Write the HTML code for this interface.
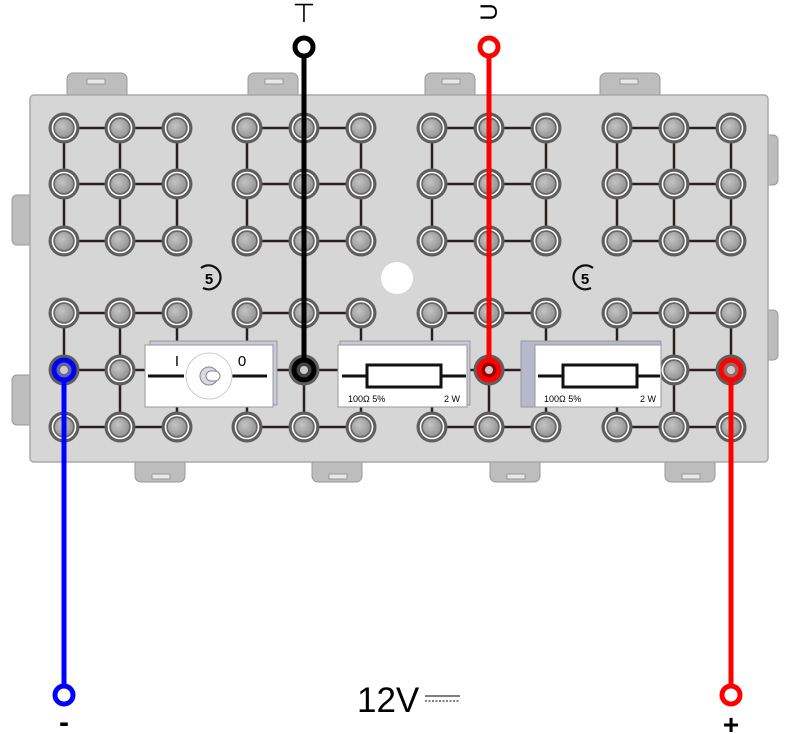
<!DOCTYPE html>
<html><head><style>body{margin:0;background:#fff}svg{display:block}</style></head><body>
<svg width="785" height="734" xmlns="http://www.w3.org/2000/svg" font-family="Liberation Sans, sans-serif">
<defs>
<radialGradient id="g" cx="0.4" cy="0.4" r="0.7"><stop offset="0" stop-color="#c4c4c4"/><stop offset="1" stop-color="#8e8e8e"/></radialGradient>
<g id="s"><circle r="15.5" fill="#5e5e5e"/><circle r="11.5" fill="none" stroke="#fff" stroke-width="1.6"/><circle r="9.5" fill="url(#g)" stroke="#6a6a6a" stroke-width="1"/></g>
</defs>
<g fill="#bdbdbd" stroke="#999">
<rect x="67" y="73" width="60" height="30" rx="6"/><rect x="248" y="73" width="50" height="30" rx="6"/>
<rect x="425" y="73" width="50" height="30" rx="6"/><rect x="600" y="73" width="60" height="30" rx="6"/>
<rect x="135" y="452" width="50" height="30" rx="6"/><rect x="312" y="452" width="50" height="30" rx="6"/>
<rect x="490" y="452" width="50" height="30" rx="6"/><rect x="665" y="452" width="50" height="30" rx="6"/>
<rect x="12" y="195" width="25" height="50" rx="5"/><rect x="12" y="375" width="25" height="50" rx="5"/>
<rect x="760" y="135" width="18" height="50" rx="5"/><rect x="760" y="310" width="18" height="50" rx="5"/>
</g>
<g fill="#e8e8e8" stroke="#999"><rect x="87" y="79" width="18" height="5"/><rect x="265" y="79" width="18" height="5"/><rect x="442" y="79" width="18" height="5"/><rect x="620" y="79" width="18" height="5"/>
<rect x="152" y="474" width="18" height="5"/><rect x="329" y="474" width="18" height="5"/><rect x="507" y="474" width="18" height="5"/><rect x="682" y="474" width="18" height="5"/></g>
<rect x="30" y="95" width="738" height="367" rx="4" fill="#d6d6d6" stroke="#a8a8a8" stroke-width="1.5"/>
<circle cx="397" cy="278" r="16" fill="#fff"/>
<g fill="none" stroke="#111" stroke-width="2.2"><path d="M201,268 A12,12 0 1 1 203,288"/><path d="M593,268 A12,12 0 1 0 591,288"/></g>
<text x="209" y="284" font-size="15" font-weight="bold" text-anchor="middle">5</text>
<text x="585" y="284" font-size="15" font-weight="bold" text-anchor="middle">5</text>
<g stroke="#2a1f1f" stroke-width="2.5">
<path d="M64,128H177M64,184H177M64,241H177M64,128V241M120,128V241M177,128V241
M247,128H361M247,184H361M247,241H361M247,128V241M304,128V241M361,128V241
M432,128H546M432,184H546M432,241H546M432,128V241M489,128V241M546,128V241
M617,128H731M617,184H731M617,241H731M617,128V241M674,128V241M731,128V241
M64,313H177M64,427H177M64,370H177M64,313V427M120,313V427M177,313V427
M247,313H361M247,427H361M247,370H361M247,313V427M304,313V427M361,313V427
M432,313H546M432,427H546M432,370H546M432,313V427M489,313V427M546,313V427
M617,313H731M617,427H731M617,370H731M617,313V427M674,313V427M731,313V427"/>
</g>
<g>
<use href="#s" x="64" y="128"/><use href="#s" x="120" y="128"/><use href="#s" x="177" y="128"/><use href="#s" x="247" y="128"/><use href="#s" x="304" y="128"/><use href="#s" x="361" y="128"/><use href="#s" x="432" y="128"/><use href="#s" x="489" y="128"/><use href="#s" x="546" y="128"/><use href="#s" x="617" y="128"/><use href="#s" x="674" y="128"/><use href="#s" x="731" y="128"/>
<use href="#s" x="64" y="184"/><use href="#s" x="120" y="184"/><use href="#s" x="177" y="184"/><use href="#s" x="247" y="184"/><use href="#s" x="304" y="184"/><use href="#s" x="361" y="184"/><use href="#s" x="432" y="184"/><use href="#s" x="489" y="184"/><use href="#s" x="546" y="184"/><use href="#s" x="617" y="184"/><use href="#s" x="674" y="184"/><use href="#s" x="731" y="184"/>
<use href="#s" x="64" y="241"/><use href="#s" x="120" y="241"/><use href="#s" x="177" y="241"/><use href="#s" x="247" y="241"/><use href="#s" x="304" y="241"/><use href="#s" x="361" y="241"/><use href="#s" x="432" y="241"/><use href="#s" x="489" y="241"/><use href="#s" x="546" y="241"/><use href="#s" x="617" y="241"/><use href="#s" x="674" y="241"/><use href="#s" x="731" y="241"/>
<use href="#s" x="64" y="313"/><use href="#s" x="120" y="313"/><use href="#s" x="177" y="313"/><use href="#s" x="247" y="313"/><use href="#s" x="304" y="313"/><use href="#s" x="361" y="313"/><use href="#s" x="432" y="313"/><use href="#s" x="489" y="313"/><use href="#s" x="546" y="313"/><use href="#s" x="617" y="313"/><use href="#s" x="674" y="313"/><use href="#s" x="731" y="313"/>
<use href="#s" x="64" y="370"/><use href="#s" x="120" y="370"/><use href="#s" x="304" y="370"/><use href="#s" x="489" y="370"/><use href="#s" x="674" y="370"/><use href="#s" x="731" y="370"/>
<use href="#s" x="64" y="427"/><use href="#s" x="120" y="427"/><use href="#s" x="177" y="427"/><use href="#s" x="247" y="427"/><use href="#s" x="304" y="427"/><use href="#s" x="361" y="427"/><use href="#s" x="432" y="427"/><use href="#s" x="489" y="427"/><use href="#s" x="546" y="427"/><use href="#s" x="617" y="427"/><use href="#s" x="674" y="427"/><use href="#s" x="731" y="427"/>
</g>
<rect x="150" y="341" width="127" height="64" fill="#c8c8d8" stroke="#999"/>
<rect x="145" y="345" width="128" height="62" fill="#fff" stroke="#999"/>
<path d="M148,376H184M230,376H267" stroke="#111" stroke-width="3"/>
<circle cx="209" cy="376" r="23" fill="#fff" stroke="#ccc"/>
<circle cx="209" cy="376" r="9" fill="#d8d8e8" stroke="#888"/>
<rect x="206" y="371" width="14" height="10" rx="5" fill="#fff" stroke="#888"/>
<text x="177" y="366" font-size="15" text-anchor="middle">I</text>
<text x="242" y="366" font-size="15" text-anchor="middle">0</text>
<rect x="340" y="341" width="130" height="64" fill="#c8c8d8" stroke="#999"/>
<rect x="338" y="345" width="129" height="62" fill="#fff" stroke="#999"/>
<path d="M342,376H367M441,376H466" stroke="#111" stroke-width="3"/>
<rect x="367" y="365" width="74" height="22" fill="#fff" stroke="#111" stroke-width="3"/>
<text x="348" y="402" font-size="9">100Ω  5%</text><text x="460" y="402" font-size="9" text-anchor="end">2 W</text>
<rect x="521" y="341" width="140" height="66" fill="#b8b8cc" stroke="#999"/>
<rect x="535" y="345" width="126" height="62" fill="#fff" stroke="#999"/>
<path d="M538,376H563M637,376H660" stroke="#111" stroke-width="3"/>
<rect x="563" y="365" width="74" height="22" fill="#fff" stroke="#111" stroke-width="3"/>
<text x="544" y="402" font-size="9">100Ω  5%</text><text x="656" y="402" font-size="9" text-anchor="end">2 W</text>
<g fill="none" stroke-width="5">
<path d="M304,56V362" stroke="#000"/><circle cx="304" cy="47" r="9" stroke="#000"/><circle cx="304" cy="370" r="10" stroke="#000" fill="#444"/>
<path d="M489,56V362" stroke="#f00"/><circle cx="489" cy="47" r="9" stroke="#f00"/><circle cx="489" cy="370" r="10" stroke="#f00" fill="#900"/>
<path d="M64,378V686" stroke="#00f"/><circle cx="64" cy="370" r="10" stroke="#00f" fill="#669"/><circle cx="64" cy="695" r="9" stroke="#00f"/>
<path d="M731,378V686" stroke="#f00"/><circle cx="731" cy="370" r="10" stroke="#f00" fill="#966"/><circle cx="731" cy="695" r="9" stroke="#f00"/>
</g>
<circle cx="304" cy="370" r="4" fill="#ccc"/><circle cx="489" cy="370" r="4" fill="#ccc"/><circle cx="64" cy="370" r="4" fill="#ccc"/><circle cx="731" cy="370" r="4" fill="#ccc"/>
<text x="304" y="22" font-size="26" text-anchor="middle" font-family="DejaVu Sans, sans-serif" font-weight="100">⊤</text>
<text x="0" y="0" font-size="24" text-anchor="middle" transform="translate(497,12) rotate(-90)">U</text>
<text x="64" y="732" font-size="30" font-weight="bold" text-anchor="middle">-</text>
<text x="731" y="734" font-size="28" font-weight="bold" text-anchor="middle">+</text>
<text x="357" y="712" font-size="35">12V</text>
<path d="M425,696H460" stroke="#000" stroke-width="1"/><path d="M425,701H460" stroke="#000" stroke-width="1" stroke-dasharray="2,1.5"/>
</svg>
</body></html>
